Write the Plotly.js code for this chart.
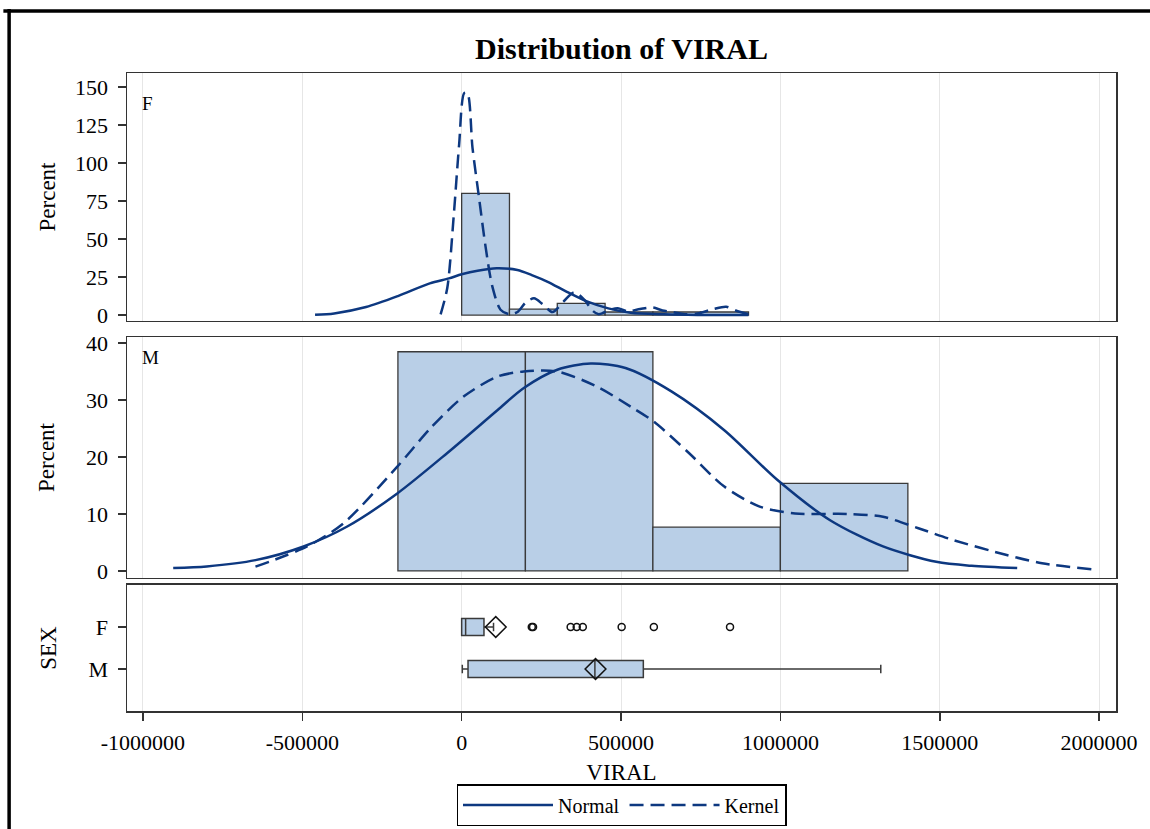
<!DOCTYPE html>
<html><head><meta charset="utf-8">
<script src="https://cdn.plot.ly/plotly-3.0.1.min.js"></script>
<style>html,body{margin:0;padding:0;background:#fff}#chart{width:1150px;height:829px}</style>
</head><body><div id="chart"></div>
<script>
// ---- data ----
const sexCategories = ['M', 'F'];
const xTickVals = [-1000000, -500000, 0, 500000, 1000000, 1500000, 2000000];
const xTickLabels = ['-1000000', '-500000', '0', '500000', '1000000', '1500000', '2000000'];
const yTickValsF = [0, 25, 50, 75, 100, 125, 150];
const yTickValsM = [0, 10, 20, 30, 40];

// histogram bins (left edges) and percents
const binLeftF = [0, 150000, 300000, 450000, 600000, 750000];
const pctF = [80, 3.9, 7.7, 2.0, 2.0, 2.0];
const binLeftM = [-200000, 200000, 600000, 1000000];
const pctM = [38.46, 38.46, 7.69, 15.38];

// fitted curves
const normFx = [-460000, -400000, -300000, -200000, -100000, -40000, 0, 50000, 110000, 175000, 220000, 270000, 330000, 395000, 460000, 530000, 635000, 740000, 900000];
const normFy = [0.2, 1.1, 5.3, 12.5, 20.8, 24.1, 26.8, 29.2, 30.8, 29.6, 26.3, 21.9, 15.3, 8.8, 4.4, 1.5, 0.5, 0.1, 0];
const kernFx = [-66000, -45000, -25000, -8000, 8000, 18000, 34000, 54000, 75000, 96000, 122000, 150000, 175000, 200000, 227000, 255000, 285000, 320000, 353000, 385000, 410000, 430000, 465000, 490000, 520000, 560000, 600000, 630000, 660000, 700000, 740000, 790000, 830000, 860000, 900000];
const kernFy = [0.5, 18, 65, 112, 146, 146, 110, 78, 45, 19, 3.5, 0.5, 2, 8, 11, 7, 2, 9, 15, 10, 3, 0.5, 3.5, 4.5, 2.5, 4, 5, 3, 2, 0.5, 1, 4, 5.5, 3, 0.5];
const normMx = [-905000, -800000, -647000, -496000, -359000, -202000, -45000, 112000, 195000, 300000, 405000, 514000, 658000, 824000, 990000, 1156000, 1322000, 1489000, 1600000, 1743000];
const normMy = [0.5, 0.8, 1.9, 4.3, 7.8, 13.6, 20.7, 28.2, 32.1, 35.3, 36.4, 35.6, 31.5, 24.7, 16.0, 8.9, 4.3, 1.6, 0.9, 0.5];
const kernMx = [-647000, -485000, -370000, -202000, -97000, 6000, 112000, 195000, 300000, 426000, 531000, 603000, 713000, 824000, 935000, 1046000, 1212000, 1322000, 1433000, 1544000, 1710000, 1821000, 1976000];
const kernMy = [0.75, 4.3, 8.4, 18.3, 25.1, 30.6, 34.1, 35.0, 35.0, 32.3, 28.8, 26.2, 20.7, 14.8, 11.3, 10.1, 10.0, 9.5, 7.5, 5.4, 2.8, 1.35, 0.3];

// box plot statistics
const boxSex = ['F', 'M'];
const boxQ1 = [0, 20000];
const boxMedian = [12500, 418000];
const boxQ3 = [70000, 570000];
const boxLow = [0, 2000];
const boxHigh = [100000, 1315000];
const boxMean = [107000, 420000];
const outliersF = [220000, 224000, 342000, 361000, 380000, 502000, 603000, 842000];

// ---- styling ----
const FONT = 'Liberation Serif, Times New Roman, serif';
const CURVE = '#0d3880';
const FILL = '#b9cfe7';
const EDGE = '#3a3a3a';
const binWidthF = 150000, binWidthM = 400000;

const traces = [
  {type: 'bar', x: binLeftF.map(v => v + binWidthF / 2), y: pctF, width: binWidthF,
   xaxis: 'x3', yaxis: 'y3', marker: {color: FILL, line: {color: EDGE, width: 1.3}}, showlegend: false, hoverinfo: 'skip'},
  {type: 'bar', x: binLeftM.map(v => v + binWidthM / 2), y: pctM, width: binWidthM,
   xaxis: 'x2', yaxis: 'y2', marker: {color: FILL, line: {color: EDGE, width: 1.3}}, showlegend: false, hoverinfo: 'skip'},
  {type: 'scatter', mode: 'lines', x: normFx, y: normFy, xaxis: 'x3', yaxis: 'y3', name: 'Normal', legendgroup: 'n',
   line: {color: CURVE, width: 2.5, shape: 'spline', smoothing: 0.8}},
  {type: 'scatter', mode: 'lines', x: kernFx, y: kernFy, xaxis: 'x3', yaxis: 'y3', name: 'Kernel', legendgroup: 'k',
   line: {color: CURVE, width: 2.5, dash: '14px,7px', shape: 'spline', smoothing: 0.8}},
  {type: 'scatter', mode: 'lines', x: normMx, y: normMy, xaxis: 'x2', yaxis: 'y2', name: 'Normal', legendgroup: 'n', showlegend: false,
   line: {color: CURVE, width: 2.5, shape: 'spline', smoothing: 0.8}},
  {type: 'scatter', mode: 'lines', x: kernMx, y: kernMy, xaxis: 'x2', yaxis: 'y2', name: 'Kernel', legendgroup: 'k', showlegend: false,
   line: {color: CURVE, width: 2.5, dash: '14px,7px', shape: 'spline', smoothing: 0.8}},
  {type: 'box', orientation: 'h', y: boxSex, q1: boxQ1, median: boxMedian, q3: boxQ3,
   lowerfence: boxLow, upperfence: boxHigh, width: 0.4, whiskerwidth: 0.5,
   fillcolor: FILL, line: {color: EDGE, width: 1.5}, xaxis: 'x', yaxis: 'y', showlegend: false, hoverinfo: 'skip'},
  {type: 'scatter', mode: 'markers', x: boxMean, y: boxSex, xaxis: 'x', yaxis: 'y', showlegend: false,
   marker: {symbol: 'diamond-open', size: 16, color: '#111', line: {width: 1.5, color: '#111'}}},
  {type: 'scatter', mode: 'markers', x: outliersF, y: outliersF.map(() => 'F'), xaxis: 'x', yaxis: 'y', showlegend: false,
   marker: {symbol: 'circle-open', size: 7, color: '#111', line: {width: 1.5, color: '#111'}}}
];

const tickFont = {family: FONT, size: 22, color: '#000'};
const titleFont = {family: FONT, size: 23, color: '#000'};
const xCommon = {range: [-1050000, 2053000], tickvals: xTickVals, ticktext: xTickLabels,
  showgrid: true, gridcolor: '#e6e6e6', gridwidth: 1, zeroline: false,
  showline: true, mirror: true, linecolor: '#333', linewidth: 1.5};
const yCommon = {showline: true, mirror: true, linecolor: '#333', linewidth: 1.5, zeroline: false, showgrid: false,
  ticks: 'outside', ticklen: 8, tickwidth: 1.5, tickcolor: '#333', tickfont: tickFont, ticklabelstandoff: 5};

const layout = {
  width: 1150, height: 829,
  paper_bgcolor: '#fff', plot_bgcolor: '#fff',
  margin: {l: 127, r: 34, t: 73, b: 118, autoexpand: false},
  font: {family: FONT, color: '#000'},
  title: {text: '<b>Distribution of VIRAL</b>', font: {family: FONT, size: 30, color: '#000'},
    x: 0.5, xref: 'paper', xanchor: 'center', y: 1 - 48 / 829, yanchor: 'middle'},
  bargap: 0,
  showlegend: true,
  legend: {orientation: 'h', x: 0.5, xanchor: 'center', y: -(784 - 711) / 638, yanchor: 'top',
    bordercolor: '#000', borderwidth: 1.5, font: {family: FONT, size: 20, color: '#000'},
    itemwidth: 90, traceorder: 'normal'},
  xaxis: Object.assign({}, xCommon, {anchor: 'y', ticks: 'outside', ticklen: 8, tickwidth: 1.5, tickcolor: '#333',
    tickfont: tickFont, ticklabelstandoff: 3, title: {text: 'VIRAL', font: titleFont, standoff: 10}}),
  xaxis2: Object.assign({}, xCommon, {anchor: 'y2', matches: 'x', showticklabels: false, ticks: ''}),
  xaxis3: Object.assign({}, xCommon, {anchor: 'y3', matches: 'x', showticklabels: false, ticks: ''}),
  yaxis: Object.assign({}, yCommon, {domain: [0, 0.1975], type: 'category', categoryorder: 'array',
    categoryarray: sexCategories, range: [-1, 2], title: {text: 'SEX', font: titleFont, standoff: 25}}),
  yaxis2: Object.assign({}, yCommon, {domain: [0.2085, 0.5862], range: [-1.23, 41.05], tickvals: yTickValsM,
    title: {text: 'Percent', font: titleFont, standoff: 25}}),
  yaxis3: Object.assign({}, yCommon, {domain: [0.6113, 1], range: [-3.9, 159.2], tickvals: yTickValsF,
    title: {text: 'Percent', font: titleFont, standoff: 13}}),
  annotations: [
    {text: 'F', xref: 'paper', yref: 'paper', x: 0.013, y: (711 - 103) / 638, xanchor: 'left', yanchor: 'middle',
     showarrow: false, font: {family: FONT, size: 19, color: '#000'}},
    {text: 'M', xref: 'paper', yref: 'paper', x: 0.013, y: (711 - 357) / 638, xanchor: 'left', yanchor: 'middle',
     showarrow: false, font: {family: FONT, size: 19, color: '#000'}}
  ],
  shapes: [
    {type: 'line', xref: 'paper', yref: 'paper', x0: -0.125, x1: 1.05, y0: (711 - 11) / 638, y1: (711 - 11) / 638,
     line: {color: '#000', width: 3.5}},
    {type: 'line', xref: 'paper', yref: 'paper', x0: (9 - 127) / 990, x1: (9 - 127) / 990, y0: (711 - 9) / 638, y1: -0.2,
     line: {color: '#000', width: 3.5}}
  ]
};

Plotly.newPlot('chart', traces, layout, {displayModeBar: false, staticPlot: true});
</script>
</body></html>
